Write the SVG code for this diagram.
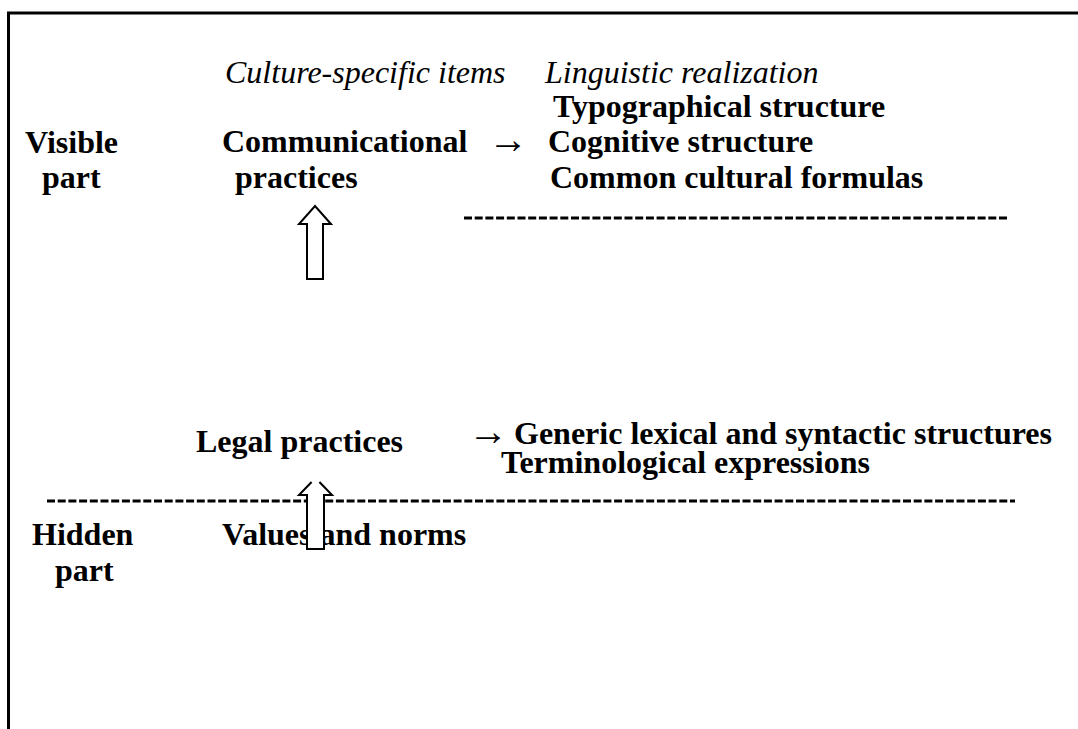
<svg xmlns="http://www.w3.org/2000/svg" width="1078" height="729" viewBox="0 0 1078 729">
<style>
.b{font-family:"Liberation Serif","Times New Roman",serif;font-size:32px;font-weight:bold;fill:#000}
.i{font-family:"Liberation Serif","Times New Roman",serif;font-size:32px;font-style:italic;fill:#000}
.ar{font-family:"Liberation Serif","Times New Roman",serif;font-size:40px;fill:#000}
.dash{stroke:#000;stroke-width:3;stroke-dasharray:8 2.7;fill:none}
.arr{fill:#fff;stroke:#000;stroke-width:2;stroke-linejoin:miter}
</style>
<rect width="1078" height="729" fill="#fff"/>
<g id="frame">
<line x1="7" y1="13" x2="1078" y2="13" stroke="#000" stroke-width="3"/>
<line x1="8.5" y1="12" x2="8.5" y2="729" stroke="#000" stroke-width="3"/>
</g>
<g id="headers">
<text class="i" x="225" y="83">Culture-specific items</text>
<text class="i" x="545" y="83">Linguistic realization</text>
</g>
<g id="visible-label">
<text class="b" x="25" y="153">Visible</text>
<text class="b" x="42" y="188">part</text>
</g>
<g id="communicational">
<text class="b" x="222" y="152">Communicational</text>
<text class="b" x="235" y="188">practices</text>
</g>
<g id="realization-visible">
<text class="b" x="553" y="117">Typographical structure</text>
<text class="b" x="548" y="152">Cognitive structure</text>
<text class="b" x="550" y="188">Common cultural formulas</text>
</g>
<g id="legal">
<text class="b" x="196" y="452">Legal practices</text>
</g>
<g id="realization-legal">
<text class="b" x="514" y="444">Generic lexical and syntactic structures</text>
<text class="b" x="501" y="473">Terminological expressions</text>
</g>
<g id="hidden-label">
<text class="b" x="32" y="545">Hidden</text>
<text class="b" x="55" y="581">part</text>
</g>
<g id="values">
<text class="b" x="222" y="545">Values and norms</text>
</g>
<g id="connectors">
<text class="ar" x="488" y="153">→</text>
<text class="ar" x="468" y="445">→</text>
<line class="dash" x1="464" y1="218" x2="1009" y2="218"/>
<line class="dash" x1="47" y1="501" x2="1015" y2="501"/>
<polygon class="arr" points="315,206 331,224 323,224 323,279 307,279 307,224 299,224"/>
<polygon points="315.5,478 332,495 324,495 324,549 307,549 307,495 299,495" fill="#fff"/>
<path d="M311.6,482 L299,495 L307,495 L307,549 L324,549 L324,495 L332,495 L319.4,482" fill="none" stroke="#000" stroke-width="2"/>
</g>
</svg>
